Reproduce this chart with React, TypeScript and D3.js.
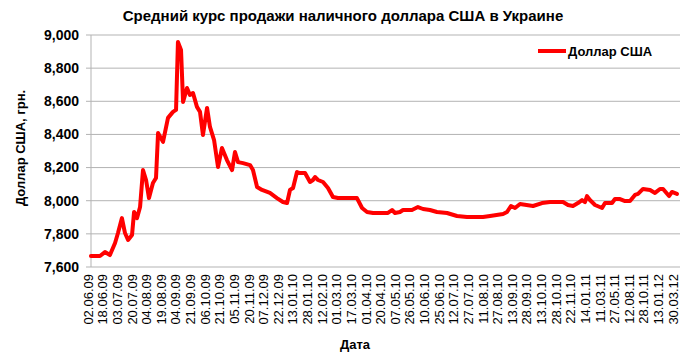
import React from "react";
import * as d3 from "d3";

const title = "Средний курс продажи наличного доллара США в Украине";
const yTitle = "Доллар США, грн.";
const xTitle = "Дата";
const seriesName = "Доллар США";

const dateLabels = [
  "02.06.09", "18.06.09", "03.07.09", "20.07.09", "04.08.09", "19.08.09", "04.09.09",
  "21.09.09", "06.10.09", "21.10.09", "05.11.09", "20.11.09", "07.12.09", "22.12.09",
  "13.01.10", "28.01.10", "12.02.10", "01.03.10", "17.03.10", "01.04.10", "20.04.10",
  "07.05.10", "26.05.10", "10.06.10", "25.06.10", "12.07.10", "27.07.10", "11.08.10",
  "27.08.10", "13.09.10", "28.09.10", "13.10.10", "28.10.10", "22.11.10", "14.01.11",
  "11.03.11", "27.05.11", "12.08.11", "28.10.11", "13.01.12", "30.03.12",
];

const yTicks = [7600, 7800, 8000, 8200, 8400, 8600, 8800, 9000];

// position along the category axis, in units of labelled dates
const positions = [
  0.2, 0.82, 1.16, 1.5, 1.85, 2.05, 2.32, 2.53, 2.74, 3.01, 3.15, 3.35, 3.56, 3.76, 3.97,
  4.17, 4.44, 4.65, 4.79, 5.13, 5.47, 5.81, 6.02, 6.15, 6.36, 6.5, 6.77, 6.97, 7.18, 7.45,
  7.66, 7.86, 8.14, 8.34, 8.62, 8.89, 9.16, 9.5, 9.85, 10.05, 10.26, 10.6, 11.08, 11.28,
  11.56, 11.9, 12.44, 12.92, 13.33, 13.61, 13.81, 14.02, 14.29, 14.5, 14.84, 15.18, 15.38,
  15.52, 15.73, 16.07, 16.41, 16.75, 17.09, 17.44, 18.39, 18.74, 19.08, 19.49, 20.51, 20.79,
  20.99, 21.33, 21.54, 22.15, 22.56, 22.91, 23.38, 23.86, 24.55, 25.23, 25.91, 27.01, 27.49,
  28.38, 28.65, 28.92, 29.2, 29.54, 30.43, 31.04, 31.59, 32.48, 32.82, 33.16, 33.5, 33.78,
  33.98, 34.12, 34.32, 34.67, 35.15, 35.35, 35.83, 36.03, 36.38, 36.72, 37.06, 37.4, 37.61,
  37.95, 38.43, 38.77, 39.11, 39.32, 39.73, 39.93, 40.27,
];

const rates = [
  7666, 7666, 7690, 7672, 7745, 7805, 7895, 7805, 7763, 7793, 7932, 7895, 7962, 8185, 8125,
  8016, 8107, 8137, 8408, 8355, 8500, 8536, 8548, 8958, 8910, 8596, 8680, 8638, 8650, 8566,
  8536, 8397, 8560, 8445, 8366, 8203, 8318, 8245, 8185, 8294, 8233, 8227, 8215, 8185,
  8083, 8065, 8047, 8016, 7992, 7986, 8065, 8077, 8173, 8167, 8167, 8113, 8125,
  8143, 8125, 8113, 8077, 8022, 8016, 8016, 8016, 7956, 7932, 7926, 7926, 7944,
  7926, 7932, 7944, 7944, 7962, 7950, 7944, 7932, 7926, 7908, 7902, 7902, 7908,
  7920, 7932, 7968, 7956, 7980, 7968, 7986, 7992, 7992, 7974, 7968, 7986, 8004,
  7992, 8028, 8004, 7974, 7956, 7986, 7986, 8010, 8010, 7998, 7998, 8035, 8041,
  8071, 8065, 8047, 8071, 8071, 8028, 8053, 8041,
];

const W = 690;
const H = 353;
const FONT = "'Liberation Sans', Arial, sans-serif";

export default function App() {
  const x = d3.scaleLinear().domain([0, dateLabels.length - 1]).range([88, 673]);
  const y = d3.scaleLinear().domain([7600, 9000]).range([267, 35]);
  const plotLeft = 91;
  const plotRight = 680;
  const fmtTick = d3.format(",");

  const pts = positions.map((p, i) => [p, rates[i]] as [number, number]);
  const line = d3
    .line<[number, number]>()
    .x((d) => x(d[0]))
    .y((d) => y(d[1]));

  return (
    <svg
      width={W}
      height={H}
      style={{ position: "absolute", left: 0, top: 0, background: "#fff" }}
      fontFamily={FONT}
    >
      <rect x={0} y={0} width={W} height={H} fill="#fff" />
      <text x={343} y={21} textAnchor="middle" fontSize={15} fontWeight="bold" fill="#000">
        {title}
      </text>

      {yTicks.map((t) => (
        <g key={t}>
          {t !== 7600 && (
            <line x1={plotLeft} x2={plotRight} y1={y(t)} y2={y(t)} stroke="#b3b3b3" strokeWidth={1} />
          )}
          <line x1={plotLeft - 5} x2={plotLeft} y1={y(t)} y2={y(t)} stroke="#b3b3b3" strokeWidth={1} />
          <text x={79} y={y(t)} dy="0.35em" textAnchor="end" fontSize={14} fontWeight="bold" fill="#000">
            {fmtTick(t)}
          </text>
        </g>
      ))}
      <line x1={plotLeft} x2={plotLeft} y1={y(9000)} y2={y(7600)} stroke="#b3b3b3" strokeWidth={1} />
      <line x1={plotLeft} x2={plotRight} y1={y(7600)} y2={y(7600)} stroke="#b3b3b3" strokeWidth={1} />

      {dateLabels.map((lab, i) => (
        <text
          key={lab}
          transform={`translate(${x(i)},274) rotate(-90)`}
          dy="0.36em"
          textAnchor="end"
          fontSize={13}
          fill="#000"
        >
          {lab}
        </text>
      ))}

      <text
        transform={`translate(20,148) rotate(-90)`}
        dy="0.35em"
        textAnchor="middle"
        fontSize={13}
        fontWeight="bold"
        fill="#000"
      >
        {yTitle}
      </text>
      <text x={355} y={349} textAnchor="middle" fontSize={13} fontWeight="bold" fill="#000">
        {xTitle}
      </text>

      <path
        d={line(pts) || ""}
        fill="none"
        stroke="#ff0000"
        strokeWidth={4}
        strokeLinejoin="round"
        strokeLinecap="round"
      />

      <line x1={538} x2={566} y1={51} y2={51} stroke="#ff0000" strokeWidth={4} />
      <text x={568} y={51} dy="0.35em" fontSize={13} fontWeight="bold" fill="#000">
        {seriesName}
      </text>
    </svg>
  );
}
